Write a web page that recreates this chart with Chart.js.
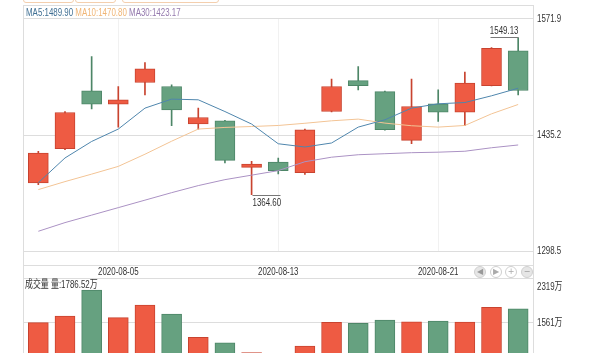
<!DOCTYPE html>
<html>
<head>
<meta charset="utf-8">
<script src="https://cdn.jsdelivr.net/npm/chart.js@4.4.1/dist/chart.umd.min.js"></script>
<style>
  html, body { margin: 0; padding: 0; background: #fff; }
  #wrap { position: relative; width: 600px; height: 353px; overflow: hidden; }
  #priceChart { position: absolute; left: 0; top: 0; }
  #volChart { position: absolute; left: 0; top: 276px; }
  .tab { position: absolute; top: -5px; height: 6px; border: 1px solid #f4cfae; border-radius: 3px; }
  .nav { position: absolute; top: 266px; width: 10px; height: 10px; border: 1px solid #cfcfcf; border-radius: 50%;
         font: 8px/10px "DejaVu Sans", sans-serif; color: #aaa; text-align: center; }
</style>
</head>
<body>
<div id="wrap">
  <div class="tab" style="left:23px;width:49px"></div>
  <div class="tab" style="left:75px;width:39px"></div>
  <div class="tab" style="left:122px;width:95px"></div>
  <canvas id="priceChart" width="600" height="280"></canvas>
  <canvas id="volChart" width="600" height="140"></canvas>
  <div class="nav" style="left:474px;background:#e6e6e6;color:#999">&#9664;</div>
  <div class="nav" style="left:490px">&#9654;</div>
  <div class="nav" style="left:505px">+</div>
  <div class="nav" style="left:521px;background:#e6e6e6;color:#999">&#8722;</div>
</div>
<script>
// trading days
const dates = ['2020-07-31', '2020-08-03', '2020-08-04', '2020-08-05', '2020-08-06', '2020-08-07',
  '2020-08-10', '2020-08-11', '2020-08-12', '2020-08-13', '2020-08-14', '2020-08-17',
  '2020-08-18', '2020-08-19', '2020-08-20', '2020-08-21', '2020-08-24', '2020-08-25', '2020-08-26'];

// OHLC
const open  = [1378.5, 1418.8, 1486.8, 1471.2, 1496.6, 1491.9, 1447.8, 1451.6, 1396.8, 1403.2,
  1390.6, 1462.5, 1498.9, 1486.0, 1428.5, 1471.6, 1461.8, 1493.0, 1533.8];
const close = [1413.7, 1461.4, 1471.2, 1476.3, 1512.6, 1464.5, 1455.5, 1405.0, 1400.8, 1393.0,
  1441.1, 1491.9, 1493.0, 1441.1, 1468.4, 1461.8, 1495.9, 1536.9, 1487.2];
const high  = [1415.6, 1462.3, 1527.1, 1491.9, 1520.0, 1493.9, 1466.5, 1452.3, 1403.9, 1407.9,
  1442.0, 1500.6, 1515.3, 1486.6, 1500.6, 1488.0, 1508.8, 1537.6, 1549.13];
const low   = [1376.5, 1417.6, 1465.7, 1444.2, 1482.1, 1445.8, 1441.9, 1402.0, 1364.6, 1389.2,
  1388.5, 1462.0, 1488.0, 1440.5, 1424.6, 1450.8, 1445.8, 1492.5, 1482.1];

// moving averages
const ma5  = [1378.8, 1407.9, 1427.3, 1441.9, 1466.5, 1477.1, 1476.3, 1462.5, 1447.8, 1424.6,
  1420.8, 1425.5, 1444.2, 1452.8, 1466.5, 1471.6, 1473.1, 1481.0, 1489.90];
const ma10 = [1370.7, 1380.1, 1388.9, 1398.0, 1412.3, 1427.6, 1441.9, 1443.8, 1444.9, 1446.1,
  1448.7, 1451.6, 1453.6, 1448.9, 1445.8, 1444.2, 1446.1, 1459.8, 1470.80];
const ma30 = [1321.7, 1331.9, 1340.7, 1349.5, 1358.3, 1367.1, 1375.4, 1382.4, 1387.7, 1393.0,
  1403.5, 1408.8, 1411.7, 1412.9, 1414.1, 1414.7, 1415.8, 1419.9, 1423.17];

// volume, in 万
const volume = [1549, 1664, 2112, 1635, 1854, 1699, 1297, 1204, 1032, 980,
  1147, 1556, 1539, 1595, 1566, 1578, 1561, 1814, 1786.52];

const priceTicks = [1571.9, 1435.2, 1298.5];
const volTicks = [2319, 1561];
const dateTicks = ['2020-08-05', '2020-08-13', '2020-08-21'];

const RED = '#ee5b43', RED_EDGE = '#c8432f';
const GREEN = '#66a180', GREEN_EDGE = '#4d8667';
const LINE_GRAY = '#dddddd';
const TEXT = '#333333';
const SQUEEZE = 0.72;
const FONT = '11px "Liberation Sans", "Noto Sans CJK SC", sans-serif';
const FRAME_L = 23.5, FRAME_R = 533.5;

const up = close.map((c, i) => c >= open[i]);
const fill = up.map(u => u ? RED : GREEN);
const edge = up.map(u => u ? RED_EDGE : GREEN_EDGE);

function text(ctx, str, x, y, align, baseline, color) {
  ctx.save();
  ctx.translate(x, y);
  ctx.scale(SQUEEZE, 1);
  ctx.font = FONT;
  ctx.fillStyle = color || TEXT;
  ctx.textAlign = align;
  ctx.textBaseline = baseline;
  ctx.fillText(str, 0, 0);
  ctx.restore();
  return ctx;
}

function hline(ctx, y, x1, x2, color) {
  ctx.beginPath();
  ctx.strokeStyle = color;
  ctx.lineWidth = 1;
  ctx.moveTo(x1, y);
  ctx.lineTo(x2, y);
  ctx.stroke();
}

function vline(ctx, x, y1, y2, color) {
  ctx.beginPath();
  ctx.strokeStyle = color;
  ctx.lineWidth = 1;
  ctx.moveTo(x, y1);
  ctx.lineTo(x, y2);
  ctx.stroke();
}

const priceDecor = {
  id: 'priceDecor',
  beforeDatasetsDraw(chart) {
    const { ctx, chartArea: a, scales: { x, y } } = chart;
    ctx.save();
    // date grid
    dateTicks.forEach(d => {
      const px = Math.round(x.getPixelForValue(dates.indexOf(d))) + 0.5;
      vline(ctx, px, a.top, a.bottom, '#f1f1f1');
    });
    // middle price grid
    hline(ctx, Math.round(y.getPixelForValue(priceTicks[1])) + 0.5, FRAME_L, FRAME_R, LINE_GRAY);
    // frame
    [5.5, 18.5, 251.5, 265.5, 278.5].forEach(py => hline(ctx, py, FRAME_L, FRAME_R, LINE_GRAY));
    vline(ctx, FRAME_L, 5, 280, LINE_GRAY);
    vline(ctx, FRAME_R, 5, 280, LINE_GRAY);
    ctx.restore();
  },
  afterDatasetsDraw(chart) {
    const { ctx, scales: { x, y } } = chart;
    // header
    let hx = 26;
    [['MA5:' + ma5[ma5.length - 1].toFixed(2), '#3f6f93'],
     ['MA10:' + ma10[ma10.length - 1].toFixed(2), '#f0b575'],
     ['MA30:' + ma30[ma30.length - 1].toFixed(2), '#9479ad']].forEach(([s, c]) => {
      text(ctx, s, hx, 12.5, 'left', 'middle', c);
      ctx.font = FONT;
      hx += (ctx.measureText(s + ' ').width) * SQUEEZE;
    });
    // right price labels
    priceTicks.forEach(v => text(ctx, v.toFixed(1), 537, y.getPixelForValue(v), 'left', 'middle'));
    // date labels
    dateTicks.forEach(d => text(ctx, d, x.getPixelForValue(dates.indexOf(d)), 272, 'center', 'middle'));
    // high / low markers
    const hi = high.indexOf(Math.max(...high));
    const lo = low.indexOf(Math.min(...low));
    const hx2 = Math.round(x.getPixelForValue(hi)) + 0.5;
    const hy = Math.round(y.getPixelForValue(high[hi])) - 0.5;
    hline(ctx, hy, hx2 - 28, hx2, '#777');
    text(ctx, high[hi].toFixed(2), hx2, hy - 1, 'right', 'bottom');
    const lx = Math.round(x.getPixelForValue(lo)) + 0.5;
    const ly = Math.round(y.getPixelForValue(low[lo])) + 0.5;
    hline(ctx, ly, lx, lx + 28, '#777');
    text(ctx, low[lo].toFixed(2), lx, ly + 1.5, 'left', 'top');
  }
};

const volDecor = {
  id: 'volDecor',
  beforeDatasetsDraw(chart) {
    const { ctx, scales: { y } } = chart;
    ctx.save();
    hline(ctx, Math.round(y.getPixelForValue(volTicks[1])) + 0.5, FRAME_L, FRAME_R, LINE_GRAY);
    vline(ctx, FRAME_L, 0, 140, LINE_GRAY);
    vline(ctx, FRAME_R, 0, 140, LINE_GRAY);
    ctx.restore();
  },
  afterDatasetsDraw(chart) {
    const { ctx, scales: { y } } = chart;
    text(ctx, '成交量 量:' + volume[volume.length - 1].toFixed(2) + '万', 25, 9, 'left', 'middle');
    text(ctx, volTicks[0] + '万', 537, y.getPixelForValue(volTicks[0]) + 3, 'left', 'top');
    text(ctx, volTicks[1] + '万', 537, y.getPixelForValue(volTicks[1]) + 1, 'left', 'middle');
  }
};

const common = {
  responsive: false,
  animation: false,
  devicePixelRatio: 1,
  events: [],
  plugins: { legend: { display: false }, tooltip: { enabled: false } }
};

new Chart(document.getElementById('priceChart'), {
  type: 'bar',
  data: {
    labels: dates,
    datasets: [
      { type: 'line', data: ma5, borderColor: '#4f86ad', borderWidth: 1, pointRadius: 0, tension: 0, order: 0 },
      { type: 'line', data: ma10, borderColor: '#f3c495', borderWidth: 1, pointRadius: 0, tension: 0, order: 0 },
      { type: 'line', data: ma30, borderColor: '#ab92c4', borderWidth: 1, pointRadius: 0, tension: 0, order: 0 },
      { data: open.map((o, i) => [o, close[i]]), backgroundColor: fill, borderColor: edge,
        borderWidth: 1, borderSkipped: false, barThickness: 20, grouped: false, order: 1 },
      { data: low.map((l, i) => [l, high[i]]), backgroundColor: edge,
        borderWidth: 0, barThickness: 1, grouped: false, order: 2 }
    ]
  },
  options: {
    ...common,
    layout: { padding: { left: 25, right: 68.5, top: 18.5, bottom: 29 } },
    scales: {
      x: { display: false },
      y: { display: false, min: priceTicks[2], max: priceTicks[0] }
    }
  },
  plugins: [priceDecor]
});

new Chart(document.getElementById('volChart'), {
  type: 'bar',
  data: {
    labels: dates,
    datasets: [
      { data: volume, backgroundColor: fill, borderColor: edge, borderWidth: 1,
        borderSkipped: false, barThickness: 20 }
    ]
  },
  options: {
    ...common,
    layout: { padding: { left: 25, right: 68.5, top: 2, bottom: 3.4 } },
    scales: {
      x: { display: false },
      y: { display: false, min: 0, max: volTicks[0] }
    }
  },
  plugins: [volDecor]
});
</script>
</body>
</html>
